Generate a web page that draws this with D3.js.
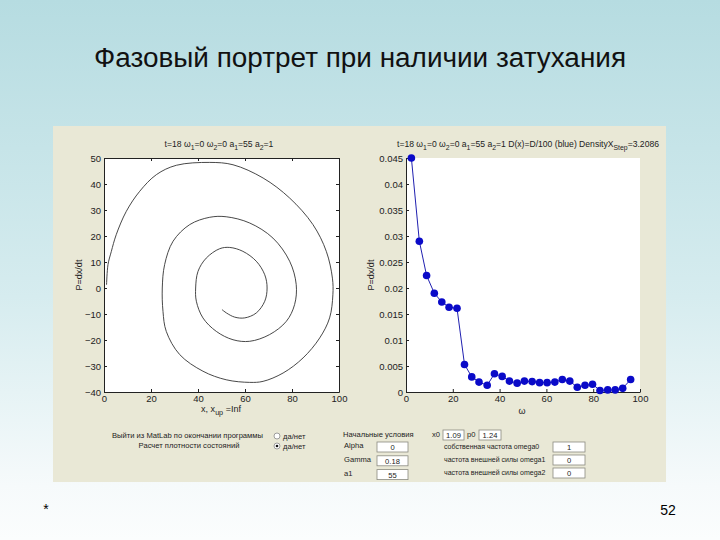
<!DOCTYPE html>
<html>
<head>
<meta charset="utf-8">
<script src="https://cdn.jsdelivr.net/npm/d3@7"></script>
<style>
  body { margin: 0; }
  svg { display: block; font-family: "Liberation Sans", Arial, sans-serif; }
</style>
</head>
<body>
<div id="chart"></div>
<script>
// phase portrait (x, P)
const spiralX = [1.09, 1.7, 3.1, 5.2, 9.5, 15.2, 22.3, 30.8, 45, 54.9, 67.7, 79, 88.9, 94.6, 97.2, 97.4, 96, 91.8, 84.7, 76.2, 67.7, 62, 52, 42.1, 32.2, 26.5, 25.1, 24.8, 25.8, 29.4, 36.5, 45, 52, 62, 71.9, 79, 81.8, 81.1, 77.6, 70.5, 62, 54.9, 47.8, 42.1, 39.3, 39, 40, 43.5, 49.2, 53.5, 59.1, 64.8, 68.4, 69.4, 68.4, 64.8, 59.9, 55.6, 52.1, 50.2];
const spiralP = [1.24, 9, 14, 20.5, 29.5, 37.2, 43.6, 47.2, 48.3, 47.4, 42.3, 34.6, 24.4, 14.1, 3.8, -2.6, -11.5, -19.2, -26.9, -32.7, -35.9, -36.3, -35.3, -32, -25.6, -16.7, -9, 0, 9, 18, 24.4, 27.2, 27.4, 25, 19.2, 10.3, 1.3, -6.4, -12.8, -17.9, -20.5, -19.9, -16.7, -11.5, -5.1, 0, 6.4, 11.5, 15.1, 15.6, 14.1, 10.3, 5.1, 0, -5.1, -9.6, -11.5, -11.2, -9.6, -8.3];

// density of states
const omega = [2.3, 5.7, 8.8, 12.1, 15.3, 18.4, 21.8, 25, 28.1, 31.2, 34.7, 37.8, 41.1, 44.2, 47.5, 50.6, 53.9, 57.1, 60.3, 63.6, 66.8, 70, 73.2, 76.5, 79.7, 82.9, 86.2, 89.4, 92.6, 96];
const density = [0.045, 0.029, 0.0224, 0.019, 0.0173, 0.0163, 0.0161, 0.0053, 0.0029, 0.0019, 0.0013, 0.0035, 0.003, 0.0021, 0.0017, 0.0021, 0.002, 0.0018, 0.0018, 0.0019, 0.0024, 0.0021, 0.0009, 0.0013, 0.0015, 0.0003, 0.0004, 0.0004, 0.0007, 0.0024];

const leftXTicks = [0, 20, 40, 60, 80, 100];
const leftYTicks = [-40, -30, -20, -10, 0, 10, 20, 30, 40, 50];
const rightXTicks = [0, 20, 40, 60, 80, 100];
const rightYTicks = [0, 0.005, 0.01, 0.015, 0.02, 0.025, 0.03, 0.035, 0.04, 0.045];

const W = 720, H = 540;
const svg = d3.select('#chart').append('svg')
  .attr('width', W)
  .attr('height', H);

const defs = svg.append('defs');
const grad = defs.append('linearGradient')
  .attr('id', 'bg')
  .attr('x1', 0).attr('y1', 0).attr('x2', 0).attr('y2', 1);
grad.append('stop').attr('offset', '0%').attr('stop-color', '#b6dce1');
grad.append('stop').attr('offset', '55%').attr('stop-color', '#d6ecef');
grad.append('stop').attr('offset', '90%').attr('stop-color', '#f6fafb');
grad.append('stop').attr('offset', '100%').attr('stop-color', '#fbfdfd');

defs.append('clipPath').attr('id', 'panelClip')
  .append('rect').attr('x', 53).attr('y', 126).attr('width', 613).attr('height', 356);

svg.append('rect').attr('width', W).attr('height', H).attr('fill', 'url(#bg)');

// slide title
svg.append('text')
  .attr('x', 360).attr('y', 67)
  .attr('text-anchor', 'middle')
  .attr('font-size', 27)
  .attr('textLength', 532)
  .attr('lengthAdjust', 'spacingAndGlyphs')
  .attr('fill', '#111')
  .text('Фазовый портрет при наличии затухания');

// matlab window panel
svg.append('rect')
  .attr('x', 53).attr('y', 126)
  .attr('width', 613).attr('height', 356)
  .attr('fill', '#e9e8d6');

svg.append('text').attr('x', 46).attr('y', 514).attr('font-size', 14).attr('text-anchor', 'middle').text('*');
svg.append('text').attr('x', 668).attr('y', 515).attr('font-size', 14).attr('text-anchor', 'middle').text('52');

// helper for the subscript texts
const subText = (sel, parts) => {
  let down = false;
  parts.forEach(p => {
    if (p.sub) {
      sel.append('tspan').attr('dy', 2.5).attr('font-size', '0.8em').text(p.sub);
      down = true;
    } else {
      sel.append('tspan').attr('dy', down ? -2.5 : 0).text(p.t);
      down = false;
    }
  });
};

const tickFont = 9.5;

const styleAxis = g => {
  g.selectAll('path').attr('stroke', '#222');
  g.selectAll('line').attr('stroke', '#222');
  g.selectAll('text').attr('font-size', tickFont).attr('fill', '#222')
    .attr('font-family', '"Liberation Sans", Arial, sans-serif');
};

// ---------- left plot ----------
const L = { x0: 104, x1: 339, y0: 158, y1: 392 };
const lx = d3.scaleLinear().domain([0, 100]).range([L.x0, L.x1]);
const ly = d3.scaleLinear().domain([-40, 50]).range([L.y1, L.y0]);

svg.append('rect')
  .attr('x', L.x0).attr('y', L.y0)
  .attr('width', L.x1 - L.x0).attr('height', L.y1 - L.y0)
  .attr('fill', '#fff');

svg.append('g').attr('transform', `translate(0,${L.y1})`)
  .call(d3.axisBottom(lx).tickValues(leftXTicks).tickSizeInner(-3).tickSizeOuter(0).tickPadding(3))
  .call(styleAxis);
svg.append('g').attr('transform', `translate(${L.x0},0)`)
  .call(d3.axisLeft(ly).tickValues(leftYTicks).tickSizeInner(-3).tickSizeOuter(0).tickPadding(3))
  .call(styleAxis);
svg.append('g').attr('transform', `translate(0,${L.y0})`)
  .call(d3.axisTop(lx).tickValues(leftXTicks).tickSizeInner(-3).tickSizeOuter(0).tickFormat(''))
  .call(styleAxis);
svg.append('g').attr('transform', `translate(${L.x1},0)`)
  .call(d3.axisRight(ly).tickValues(leftYTicks).tickSizeInner(-3).tickSizeOuter(0).tickFormat(''))
  .call(styleAxis);

const spiral = spiralX.map((x, i) => [x, spiralP[i]]);
svg.append('path')
  .datum(spiral)
  .attr('fill', 'none')
  .attr('stroke', '#333')
  .attr('stroke-width', 0.9)
  .attr('d', d3.line().x(d => lx(d[0])).y(d => ly(d[1])).curve(d3.curveCatmullRom.alpha(0.5)));

const lt = svg.append('text').attr('x', 219).attr('y', 147).attr('text-anchor', 'middle').attr('font-size', 8.6).attr('fill', '#222');
subText(lt, [{ t: 't=18 ω' }, { sub: '1' }, { t: '=0 ω' }, { sub: '2' }, { t: '=0 a' }, { sub: '1' }, { t: '=55 a' }, { sub: '2' }, { t: '=1' }]);

svg.append('text')
  .attr('transform', `translate(82,275) rotate(-90)`)
  .attr('text-anchor', 'middle').attr('font-size', 9).attr('fill', '#222')
  .text('P=dx/dt');

const lxl = svg.append('text').attr('x', 221).attr('y', 412).attr('text-anchor', 'middle').attr('font-size', 9).attr('fill', '#222');
subText(lxl, [{ t: 'x, x' }, { sub: 'up' }, { t: ' =Inf' }]);

// ---------- right plot ----------
const R = { x0: 406, x1: 640, y0: 158, y1: 392 };
const rx = d3.scaleLinear().domain([0, 100]).range([R.x0, R.x1]);
const ry = d3.scaleLinear().domain([0, 0.045]).range([R.y1, R.y0]);

svg.append('rect')
  .attr('x', R.x0).attr('y', R.y0)
  .attr('width', R.x1 - R.x0).attr('height', R.y1 - R.y0)
  .attr('fill', '#fff');

svg.append('g').attr('transform', `translate(0,${R.y1})`)
  .call(d3.axisBottom(rx).tickValues(rightXTicks).tickSizeInner(-3).tickSizeOuter(0).tickPadding(3))
  .call(styleAxis);
svg.append('g').attr('transform', `translate(${R.x0},0)`)
  .call(d3.axisLeft(ry).tickValues(rightYTicks).tickSizeInner(-3).tickSizeOuter(0).tickPadding(3).tickFormat(d => d === 0 ? '0' : String(+d.toFixed(3))))
  .call(styleAxis);

const pts = omega.map((w, i) => [w, density[i]]);
svg.append('path')
  .datum(pts)
  .attr('fill', 'none')
  .attr('stroke', '#2020b0')
  .attr('stroke-width', 1)
  .attr('d', d3.line().x(d => rx(d[0])).y(d => ry(d[1])));
svg.append('g').selectAll('circle')
  .data(pts)
  .join('circle')
  .attr('cx', d => rx(d[0]))
  .attr('cy', d => ry(d[1]))
  .attr('r', 3.8)
  .attr('fill', '#0a0ac8');

const rt = svg.append('text').attr('x', 528).attr('y', 147).attr('text-anchor', 'middle').attr('font-size', 8.6).attr('fill', '#222');
subText(rt, [{ t: 't=18 ω' }, { sub: '1' }, { t: '=0 ω' }, { sub: '2' }, { t: '=0 a' }, { sub: '1' }, { t: '=55 a' }, { sub: '2' }, { t: '=1 D(x)=D/100 (blue) DensityX' }, { sub: 'Step' }, { t: '=3.2086' }]);

svg.append('text')
  .attr('transform', `translate(374,275) rotate(-90)`)
  .attr('text-anchor', 'middle').attr('font-size', 9).attr('fill', '#222')
  .text('P=dx/dt');
svg.append('text').attr('x', 522).attr('y', 414).attr('text-anchor', 'middle').attr('font-size', 9).attr('fill', '#222').text('ω');

// ---------- controls under the plots ----------
const ctl = svg.append('g').attr('font-size', 7.6).attr('fill', '#222').attr('clip-path', 'url(#panelClip)');
ctl.append('text').attr('x', 263).attr('y', 438).attr('text-anchor', 'end').text('Выйти из MatLab по окончании программы');
ctl.append('text').attr('x', 189).attr('y', 448).attr('text-anchor', 'middle').text('Расчет плотности состояний');
[436, 446].forEach((y, i) => {
  ctl.append('circle').attr('cx', 277).attr('cy', y).attr('r', 3)
    .attr('fill', '#fff').attr('stroke', '#888').attr('stroke-width', 0.8);
  if (i === 1) ctl.append('circle').attr('cx', 277).attr('cy', y).attr('r', 1.3).attr('fill', '#111');
  ctl.append('text').attr('x', 283).attr('y', y + 2.5).text('да/нет');
});

const box = (x, y, w, h, val) => {
  ctl.append('rect').attr('x', x).attr('y', y).attr('width', w).attr('height', h)
    .attr('fill', '#fff').attr('stroke', '#8a8a80').attr('stroke-width', 0.8);
  ctl.append('text').attr('x', x + w / 2).attr('y', y + h - 2).attr('text-anchor', 'middle').text(val);
};

ctl.append('text').attr('x', 343).attr('y', 437).text('Начальные условия');
ctl.append('text').attr('x', 432).attr('y', 437).text('x0');
box(443, 430, 21, 10, '1.09');
ctl.append('text').attr('x', 467).attr('y', 437).text('p0');
box(479, 430, 22, 10, '1.24');

const leftRows = [['Alpha', '0'], ['Gamma', '0.18'], ['a1', '55'], ['a2', '1']];
leftRows.forEach((r, i) => {
  const y = 442 + i * 13.8;
  ctl.append('text').attr('x', 344).attr('y', y + 6).text(r[0]);
  box(377, y, 31, 10, r[1]);
});
const rightRows = [['собственная частота omega0', '1'], ['частота внешней силы omega1', '0'], ['частота внешней силы omega2', '0']];
rightRows.forEach((r, i) => {
  const y = 442 + i * 13;
  ctl.append('text').attr('x', 444).attr('y', y + 7).attr('font-size', 7).text(r[0]);
  box(553, y, 32, 10, r[1]);
});
</script>
</body>
</html>
